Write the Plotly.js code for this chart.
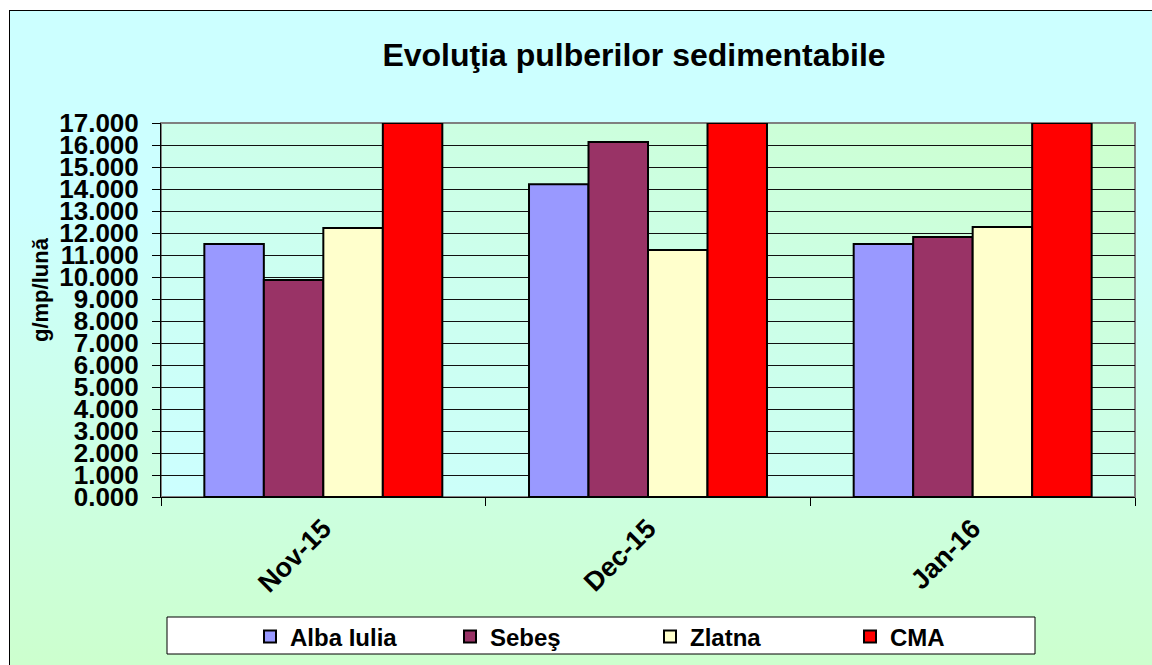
<!DOCTYPE html>
<html>
<head>
<meta charset="utf-8">
<script src="https://cdn.plot.ly/plotly-3.0.1.min.js"></script>
<style>
html,body{margin:0;padding:0;width:1152px;height:665px;overflow:hidden;}
#bg{position:absolute;left:9px;top:10px;width:1160px;height:670px;border:1px solid #000;
 background:linear-gradient(to bottom,#CCFFFF 0%,#CCFFFF 30%,#CCFFCC 100%);}
#chart{position:absolute;left:0;top:0;width:1152px;height:665px;}
</style>
</head>
<body>
<div id="bg"></div>
<div id="chart"></div>
<script>
var categories = ["Nov-15", "Dec-15", "Jan-16"];
var albaIulia = [11.5, 14.22, 11.5];
var sebes = [9.86, 16.14, 11.82];
var zlatna = [12.23, 11.23, 12.27];
var cma = [17, 17, 17];
var seriesNames = ["Alba Iulia", "Sebeş", "Zlatna", "CMA"];
var seriesColors = ["#9999FF", "#993366", "#FFFFCC", "#FF0000"];
var seriesValues = [albaIulia, sebes, zlatna, cma];

var traces = seriesValues.map(function(vals, i){
  return {
    type: "bar",
    name: seriesNames[i],
    x: categories,
    y: vals,
    marker: {color: seriesColors[i], line: {color: "#000000", width: 2}},
    hoverinfo: "none"
  };
});

var grad = "<svg xmlns='http://www.w3.org/2000/svg' width='100' height='100' preserveAspectRatio='none'>" +
  "<defs><linearGradient id='g' x1='0' y1='1' x2='1' y2='0'>" +
  "<stop offset='0' stop-color='#CCFFFF'/><stop offset='0.45' stop-color='#CCFFEE'/><stop offset='1' stop-color='#CCFFCC'/>" +
  "</linearGradient></defs><rect width='100' height='100' fill='url(#g)'/></svg>";
var gradUri = "data:image/svg+xml;charset=utf-8," + encodeURIComponent(grad);

var font = "Liberation Sans, Arial, sans-serif";
var plotL = 161, plotR = 1135, plotT = 123, plotB = 497;
var pw = plotR - plotL, ph = plotB - plotT;

var layout = {
  width: 1152, height: 665,
  margin: {l: plotL, r: 1152 - plotR, t: plotT, b: 665 - plotB, pad: 0},
  paper_bgcolor: "rgba(0,0,0,0)",
  plot_bgcolor: "rgba(0,0,0,0)",
  barmode: "group",
  bargap: 0.267,
  bargroupgap: 0,
  showlegend: true,
  font: {family: font, color: "#000000"},
  title: {
    text: "<b>Evoluţia pulberilor sedimentabile</b>",
    font: {family: font, size: 32, color: "#000"},
    x: 634 / 1152, xref: "container", xanchor: "center",
    y: 1 - 55 / 665, yref: "container", yanchor: "middle"
  },
  xaxis: {
    type: "category",
    tickson: "boundaries",
    ticks: "outside", ticklen: 8, tickwidth: 1, tickcolor: "#000",
    showline: true, linecolor: "#000", linewidth: 1,
    showgrid: false,
    tickangle: -45,
    tickfont: {family: font, size: 27, color: "#000", weight: "bold"},
    ticklabelstandoff: 4,
    automargin: false,
    fixedrange: true
  },
  yaxis: {
    range: [0, 17],
    dtick: 1,
    tick0: 0,
    tickformat: ".3f",
    ticks: "outside", ticklen: 8, tickwidth: 1, tickcolor: "#000",
    showline: true, linecolor: "#000", linewidth: 1,
    showgrid: true, gridcolor: "#111111", gridwidth: 1,
    zeroline: false,
    tickfont: {family: font, size: 26, color: "#000", weight: "bold"},
    ticklabelstandoff: 8,
    automargin: false,
    fixedrange: true
  },
  annotations: [{
    text: "<b>g/mp/lună</b>",
    font: {family: font, size: 22, color: "#000"},
    textangle: -90,
    xref: "paper", yref: "paper",
    x: (40 - plotL) / pw, y: (plotB - 290) / ph,
    xanchor: "center", yanchor: "middle",
    showarrow: false
  }],
  legend: {
    orientation: "h",
    x: 250 / 1152, xref: "container", xanchor: "left",
    y: 1 - 637 / 665, yref: "container", yanchor: "middle",
    bgcolor: "rgba(0,0,0,0)",
    borderwidth: 0,
    font: {family: font, size: 24, color: "#000", weight: "bold"},
    entrywidth: 155,
    entrywidthmode: "pixels",
    itemwidth: 30,
    traceorder: "normal"
  },
  images: [{
    source: gradUri, xref: "paper", yref: "paper",
    x: 0, y: 1, sizex: 1, sizey: 1, sizing: "stretch",
    xanchor: "left", yanchor: "top", layer: "below"
  }],
  shapes: [
    {type: "rect", xref: "paper", yref: "paper", x0: 0, x1: 1, y0: 0, y1: 1,
     line: {color: "#808080", width: 2}, fillcolor: "rgba(0,0,0,0)", layer: "below"},
    {type: "rect", xref: "paper", yref: "paper",
     x0: (167 - plotL) / pw, x1: (1035 - plotL) / pw, y0: (plotB - 617) / ph, y1: (plotB - 654) / ph,
     line: {color: "#000", width: 1}, fillcolor: "#FFFFFF", layer: "below"}
  ]
};

Plotly.newPlot("chart", traces, layout, {displayModeBar: false, staticPlot: true});
</script>
</body>
</html>
